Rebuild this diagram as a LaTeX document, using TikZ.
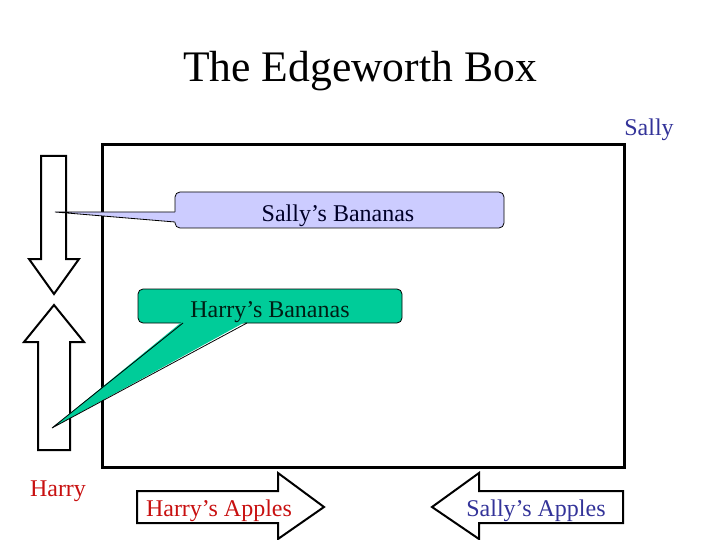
\documentclass[tikz,border=0pt]{standalone}
\usepackage{fontspec}
\setmainfont{Liberation Serif}
\definecolor{sallyblue}{RGB}{51,51,153}
\definecolor{harryred}{RGB}{200,16,16}
\definecolor{lavender}{RGB}{204,204,255}
\definecolor{teal}{RGB}{0,204,153}
\begin{document}
\begin{tikzpicture}[x=1pt,y=-1pt,
  arrowshape/.style={draw=black,line width=2pt,fill=white,line join=miter},
  callout/.style={draw=black,line width=0.8pt,rounded corners=5pt,inner sep=0pt},
  lbl/.style={font=\fontsize{24}{28}\selectfont,inner sep=0pt}]
\useasboundingbox (0,0) rectangle (720,540);
% title
\node[font=\fontsize{43.6}{50}\selectfont,inner sep=0pt] (title) at (360,71) {The Edgeworth Box};
% box
\draw[line width=3pt] (102,145) rectangle (624,467);
\node[lbl,text=sallyblue] (sally) at (649,130) {Sally};
\node[lbl,text=harryred] (harry) at (58,491) {Harry};
% vertical arrows
\draw[arrowshape] (41,156) -- (66,156) -- (66,259) -- (79,259) -- (54,294) -- (29,259) -- (41,259) -- cycle;
\draw[arrowshape] (54,305) -- (84,342) -- (70,342) -- (70,450) -- (38,450) -- (38,342) -- (24,342) -- cycle;
% horizontal arrows
\draw[arrowshape] (137,491) -- (278,491) -- (278,473) -- (324,507) -- (278,539) -- (278,523) -- (137,523) -- cycle;
\node[lbl,text=harryred] (happles) at (219,511) {Harry’s Apples};
\draw[arrowshape] (623,491) -- (479,491) -- (479,473) -- (432,507) -- (479,539) -- (479,523) -- (623,523) -- cycle;
\node[lbl,text=sallyblue] (sapples) at (536,511) {Sally’s Apples};
% Sally's Bananas callout
\node[callout,fill=lavender,minimum width=329pt,minimum height=36pt] (sb) at (339.5,210) {};
\coordinate (sbtip) at (55,212);
\fill[lavender] (sbtip) -- (177,212) -- (177,222) -- cycle;
\draw[line width=0.8pt] (175,212) -- (sbtip) -- (175,222);
\node[lbl,text={rgb,255:red,0;green,0;blue,40}] (sbt) at (338,216) {Sally’s Bananas};
% Harry's Bananas callout
\node[callout,fill=teal,minimum width=264pt,minimum height=34pt] (hb) at (270,306) {};
\coordinate (hbtip) at (52,428);
\fill[teal] (hbtip) -- (183,321) -- (247,321) -- cycle;
\draw[line width=0.8pt] (183,323) -- (hbtip) -- (247,323);
\node[lbl,text={rgb,255:red,0;green,30;blue,20}] (hbt) at (270,312) {Harry’s Bananas};
\end{tikzpicture}
\end{document}
